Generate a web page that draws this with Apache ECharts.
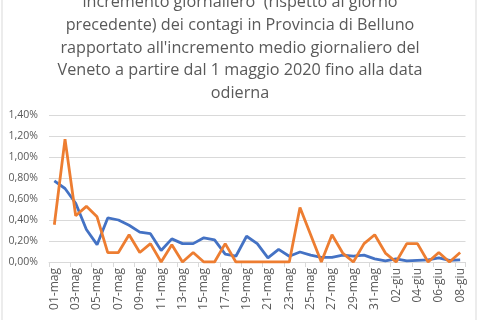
<!DOCTYPE html>
<html><head><meta charset="utf-8">
<script src="https://cdn.jsdelivr.net/npm/echarts@6/dist/echarts.min.js"></script>
<style>html,body{margin:0;padding:0;background:#fff}#c{width:480px;height:320px}</style>
</head><body><div id="c"></div>
<script>
const titleLines = [
  "incremento giornaliero  (rispetto al giorno",
  "precedente) dei contagi in Provincia di Belluno",
  "rapportato all'incremento medio giornaliero del",
  "Veneto a partire dal 1 maggio 2020 fino alla data",
  "odierna"
];
const categories = [
  "01-mag","02-mag","03-mag","04-mag","05-mag","06-mag","07-mag","08-mag","09-mag","10-mag",
  "11-mag","12-mag","13-mag","14-mag","15-mag","16-mag","17-mag","18-mag","19-mag","20-mag",
  "21-mag","22-mag","23-mag","24-mag","25-mag","26-mag","27-mag","28-mag","29-mag","30-mag",
  "31-mag","01-giu","02-giu","03-giu","04-giu","05-giu","06-giu","07-giu","08-giu"
];
// values in percent
const blueSeries = [
  0.773,0.70,0.56,0.31,0.165,0.42,0.40,0.35,0.285,0.27,
  0.11,0.22,0.175,0.175,0.23,0.21,0.075,0.055,0.245,0.175,
  0.04,0.12,0.055,0.095,0.065,0.045,0.045,0.065,0.055,0.065,
  0.03,0.01,0.03,0.01,0.015,0.02,0.04,0.015,0.02
];
const orangeSeries = [
  0.355,1.17,0.44,0.53,0.43,0.09,0.09,0.26,0.09,0.175,
  0,0.165,0,0.09,0,0,0.175,0,0,0,
  0,0,0,0.52,0.26,0,0.26,0.085,0,0.175,
  0.26,0.085,0,0.175,0.175,0,0.09,0,0.09
];
const yTicks = {min: 0, max: 1.4, interval: 0.2};

const chart = echarts.init(document.getElementById('c'), null, {renderer: 'canvas'});
chart.setOption({
  animation: false,
  backgroundColor: '#fff',
  title: {
    text: titleLines.join('\n'),
    left: 'center',
    top: -14,
    textStyle: {fontFamily: 'Open Sans', fontSize: 16.2, fontWeight: 'normal', color: '#595959', lineHeight: 22.8}
  },
  graphic: [{
    type: 'rect', shape: {x: 2, y: -5, width: 474, height: 340},
    style: {fill: 'none', stroke: '#d9d9d9', lineWidth: 1}, silent: true, z: -1
  }],
  grid: {left: 49, right: 14.5, top: 115, bottom: 58},
  xAxis: {
    type: 'category',
    data: categories,
    boundaryGap: true,
    axisLine: {lineStyle: {color: '#d9d9d9'}},
    axisTick: {show: true, interval: 1, length: 5, lineStyle: {color: '#d9d9d9'}},
    axisLabel: {interval: 1, rotate: 90, fontFamily: 'Open Sans', fontSize: 12, color: '#595959', margin: 6}
  },
  yAxis: {
    type: 'value',
    min: yTicks.min, max: yTicks.max, interval: yTicks.interval,
    axisLine: {show: false},
    axisTick: {show: false},
    splitLine: {lineStyle: {color: '#d9d9d9'}},
    axisLabel: {
      fontFamily: 'Open Sans', fontSize: 10.5, color: '#595959', margin: 11,
      formatter: v => v.toFixed(2).replace('.', ',') + '%'
    }
  },
  series: [
    {type: 'line', data: blueSeries, showSymbol: false, lineStyle: {color: '#4472C4', width: 2.8}, itemStyle: {color: '#4472C4'}},
    {type: 'line', data: orangeSeries, showSymbol: false, lineStyle: {color: '#ED7D31', width: 2.8}, itemStyle: {color: '#ED7D31'}, z: 3}
  ]
});
</script>
</body></html>
